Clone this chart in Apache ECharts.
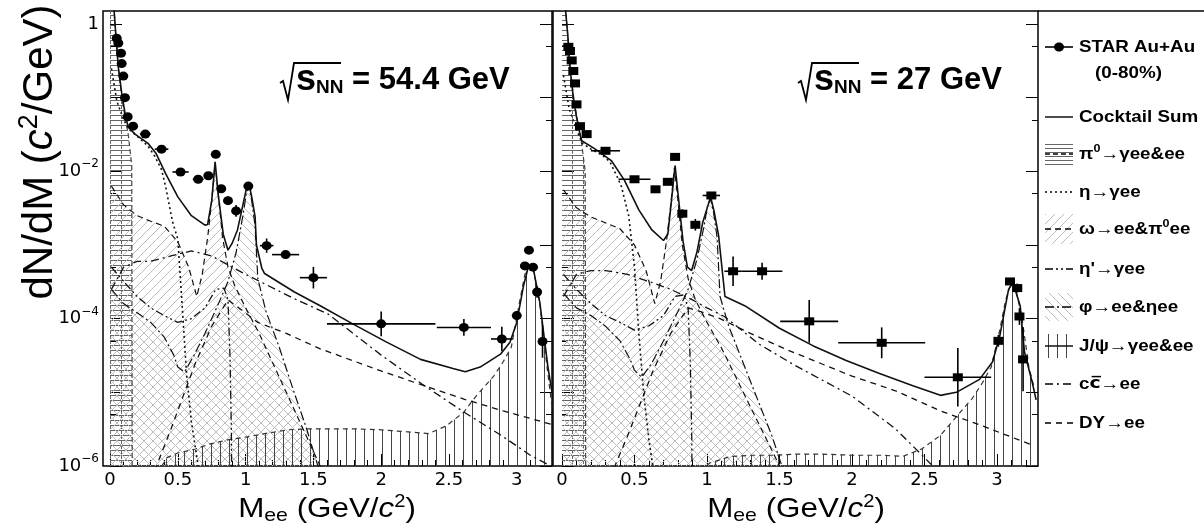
<!DOCTYPE html>
<html>
<head>
<meta charset="utf-8">
<script src="https://cdn.jsdelivr.net/npm/echarts@6/dist/echarts.min.js"></script>
<style>
html, body { margin: 0; padding: 0; background: #fff; }
#chart { width: 1204px; height: 529px; }
</style>
</head>
<body>
<div id="chart"></div>
<script>
// ---------- STAR data points ----------
const mass54 = [0.049, 0.061, 0.081, 0.086, 0.098, 0.11, 0.13, 0.17, 0.26, 0.38, 0.52, 0.65, 0.725, 0.78, 0.82, 0.87, 0.93, 1.02, 1.155, 1.295, 1.5, 2.0, 2.61, 2.89, 3.0, 3.06, 3.09, 3.12, 3.15, 3.19]
const dndm54 = [0.64, 0.55, 0.40, 0.29, 0.196, 0.10, 0.055, 0.041, 0.032, 0.020, 0.0098, 0.0078, 0.0087, 0.017, 0.0058, 0.0040, 0.0029, 0.0063, 9.8e-4, 7.4e-4, 3.6e-4, 8.5e-5, 7.6e-5, 5.3e-5, 1.1e-4, 5.2e-4, 8.5e-4, 5.0e-4, 2.3e-4, 4.9e-5]
const dm54 = [0.005, 0.005, 0.005, 0.005, 0.005, 0.005, 0.01, 0.02, 0.04, 0.05, 0.06, 0.04, 0.02, 0.01, 0.01, 0.02, 0.02, 0.03, 0.05, 0.1, 0.1, 0.4, 0.2, 0.08, 0.03, 0.01, 0.01, 0.01, 0.01, 0.01]
const fy54 = [1.04, 1.04, 1.04, 1.04, 1.04, 1.04, 1.05, 1.05, 1.06, 1.06, 1.08, 1.08, 1.08, 1.06, 1.1, 1.15, 1.2, 1.1, 1.25, 1.12, 1.4, 1.47, 1.3, 1.47, 1.15, 1.08, 1.06, 1.1, 1.2, 1.66]

const mass27 = [0.044, 0.055, 0.067, 0.078, 0.09, 0.10, 0.124, 0.17, 0.30, 0.50, 0.645, 0.73, 0.78, 0.83, 0.92, 1.03, 1.18, 1.38, 1.705, 2.205, 2.73, 3.01, 3.09, 3.14, 3.155, 3.18]
const dndm27 = [0.49, 0.43, 0.32, 0.23, 0.156, 0.081, 0.041, 0.032, 0.019, 0.0078, 0.0057, 0.0072, 0.0157, 0.00266, 0.00188, 0.0047, 4.4e-4, 4.4e-4, 9.2e-5, 4.7e-5, 1.6e-5, 5.0e-5, 3.2e-4, 2.6e-4, 1.07e-4, 2.8e-5]
const dm27 = [0.005, 0.005, 0.005, 0.005, 0.005, 0.005, 0.01, 0.02, 0.1, 0.11, 0.03, 0.02, 0.01, 0.02, 0.03, 0.06, 0.06, 0.14, 0.2, 0.3, 0.23, 0.02, 0.01, 0.01, 0.01, 0.01]
const fy27 = [1.04, 1.04, 1.04, 1.04, 1.04, 1.04, 1.05, 1.05, 1.06, 1.06, 1.08, 1.08, 1.06, 1.15, 1.2, 1.1, 1.58, 1.3, 1.95, 1.62, 2.5, 1.2, 1.08, 1.15, 1.3, 2.7]

// ---------- cocktail sum ----------
const mSum54 = [0.02, 0.03, 0.042, 0.061, 0.086, 0.11, 0.133, 0.184, 0.28, 0.34, 0.41, 0.50, 0.60, 0.70, 0.72, 0.75, 0.775, 0.80, 0.835, 0.87, 0.90, 0.94, 0.98, 1.01, 1.025, 1.045, 1.07, 1.08, 1.12, 1.14, 1.36, 1.55, 1.79, 2.04, 2.29, 2.53, 2.62, 2.73, 2.88, 2.95, 3.0, 3.05, 3.085, 3.12, 3.17, 3.23, 3.26]
const sum54 = [2.5, 1.51, 0.74, 0.26, 0.115, 0.062, 0.040, 0.032, 0.024, 0.0174, 0.0093, 0.0045, 0.0025, 0.00186, 0.0019, 0.004, 0.0135, 0.0045, 0.0014, 8.5e-4, 0.00105, 0.0016, 0.0035, 0.0063, 0.0068, 0.0045, 0.0024, 0.001, 4.8e-4, 4.1e-4, 2.3e-4, 1.5e-4, 8.5e-5, 4.8e-5, 2.8e-5, 2.1e-5, 1.9e-5, 2.2e-5, 3.3e-5, 4.8e-5, 8.9e-5, 2.8e-4, 5.0e-4, 5.0e-4, 1.66e-4, 2.2e-5, 1e-5]
const mSum27 = [0.015, 0.025, 0.039, 0.055, 0.078, 0.10, 0.124, 0.136, 0.23, 0.34, 0.43, 0.53, 0.62, 0.70, 0.73, 0.755, 0.78, 0.80, 0.835, 0.865, 0.894, 0.93, 0.97, 1.025, 1.05, 1.08, 1.124, 1.26, 1.50, 1.73, 1.96, 2.19, 2.42, 2.61, 2.72, 2.88, 2.97, 3.02, 3.08, 3.11, 3.16, 3.19, 3.24, 3.27]
const sum27 = [3, 1.5, 0.75, 0.26, 0.10, 0.055, 0.032, 0.026, 0.020, 0.014, 0.0076, 0.003, 0.0016, 0.00115, 0.0014, 0.004, 0.012, 0.005, 0.00112, 5e-4, 4.5e-4, 7.9e-4, 0.002, 0.0045, 0.0028, 0.00135, 2.0e-4, 1.5e-4, 7.4e-5, 4.3e-5, 2.7e-5, 1.8e-5, 1.23e-5, 9.1e-6, 1e-5, 1.5e-5, 2.6e-5, 5.9e-5, 2.5e-4, 3.1e-4, 1.5e-4, 3.5e-5, 1.45e-5, 7.9e-6]

// ---------- cocktail components ----------
const mPi0 = [0, 0.015, 0.03, 0.042, 0.061, 0.086, 0.11, 0.133, 0.16, 0.165]
const pi054 = [10, 3, 1.5, 0.72, 0.25, 0.105, 0.055, 0.033, 0.012, 1e-8]
const pi027 = [10, 2.8, 1.2, 0.6, 0.2, 0.085, 0.045, 0.026, 0.010, 1e-8]

const mEta = [0.01, 0.05, 0.1, 0.14, 0.2, 0.28, 0.33, 0.38, 0.41, 0.46, 0.50, 0.53, 0.565, 0.60, 0.65]
const eta54 = [0.25, 0.09, 0.05, 0.037, 0.030, 0.022, 0.016, 0.0105, 0.0062, 0.0021, 0.0012, 1.7e-4, 1.7e-5, 4e-6, 1e-6]
const eta27 = [0.2, 0.07, 0.037, 0.024, 0.020, 0.0165, 0.0135, 0.0085, 0.0062, 0.0025, 5e-4, 6.3e-5, 9e-6, 2.2e-6, 5e-7]

const mOmega = [0.01, 0.1, 0.2, 0.3, 0.4, 0.5, 0.58, 0.64, 0.68, 0.72, 0.75, 0.775, 0.80, 0.83, 0.87, 0.92, 1.0, 1.1, 1.2, 1.3, 1.45, 1.6]
const omega54 = [6.3e-3, 3.5e-3, 2.5e-3, 2.1e-3, 1.8e-3, 1.1e-3, 5e-4, 2e-4, 4e-4, 1.26e-3, 4e-3, 0.0126, 4.5e-3, 1.26e-3, 5e-4, 2.8e-4, 1.4e-4, 6.3e-5, 2.5e-5, 1e-5, 2.5e-6, 6.3e-7]
const omega27 = [5.6e-3, 3.2e-3, 2.4e-3, 2.0e-3, 1.66e-3, 1e-3, 4.5e-4, 1.6e-4, 3.2e-4, 1.1e-3, 3.5e-3, 0.0112, 4e-3, 1e-3, 3.5e-4, 1.8e-4, 8.9e-5, 4e-5, 1.6e-5, 6.3e-6, 1.6e-6, 4e-7]

const mEtap = [0.01, 0.1, 0.2, 0.3, 0.4, 0.5, 0.6, 0.7, 0.78, 0.84, 0.87, 0.885, 0.895, 0.9]
const etap54 = [5e-4, 3.2e-4, 2e-4, 1.4e-4, 1.1e-4, 8.9e-5, 1e-4, 1.4e-4, 2.5e-4, 2.6e-4, 1.8e-4, 3e-5, 3e-6, 1e-7]
const etap27 = [4e-4, 2.5e-4, 1.6e-4, 1.1e-4, 8.9e-5, 7e-5, 8e-5, 1.1e-4, 2e-4, 2.1e-4, 1.4e-4, 2.5e-5, 2.5e-6, 1e-7]

const mPhi = [0.01, 0.1, 0.2, 0.3, 0.4, 0.47, 0.5, 0.55, 0.62, 0.7, 0.8, 0.87, 0.93, 0.98, 1.005, 1.025, 1.045, 1.07, 1.09, 1.15, 1.25, 1.35, 1.45, 1.55]
const phi54 = [2.5e-4, 1.6e-4, 1.2e-4, 8.9e-5, 5.6e-5, 3.2e-5, 2.2e-5, 1.9e-5, 3.2e-5, 6.3e-5, 1.6e-4, 3.2e-4, 7.9e-4, 2.5e-3, 5e-3, 6.3e-3, 4e-3, 1.8e-3, 3.5e-4, 1.26e-4, 4e-5, 1.1e-5, 3.2e-6, 7.9e-7]
const phi27 = [2.2e-4, 1.4e-4, 1.1e-4, 7.9e-5, 5e-5, 2.8e-5, 2e-5, 1.6e-5, 2.5e-5, 5e-5, 1.26e-4, 2.5e-4, 6.3e-4, 1.8e-3, 3.5e-3, 4.2e-3, 2.8e-3, 1.26e-3, 2e-4, 7.9e-5, 2.5e-5, 7.9e-6, 2.5e-6, 6.3e-7]

const mJpsi = [0.35, 0.42, 0.5, 0.63, 0.74, 0.885, 1.02, 1.165, 1.31, 1.46, 1.61, 1.8, 2.0, 2.2, 2.35, 2.48, 2.61, 2.70, 2.83, 2.90, 2.96, 3.02, 3.06, 3.09, 3.12, 3.17, 3.22, 3.26]
const jpsi54 = [7.9e-7, 1.3e-6, 1.5e-6, 1.7e-6, 2.0e-6, 2.3e-6, 2.5e-6, 2.8e-6, 3.1e-6, 3.2e-6, 3.2e-6, 3.2e-6, 3.1e-6, 2.9e-6, 2.75e-6, 3.5e-6, 5.4e-6, 8.9e-6, 1.66e-5, 2.6e-5, 4.1e-5, 1.66e-4, 4e-4, 5.2e-4, 5e-4, 1.6e-4, 2.5e-5, 6.3e-6]
const jpsi27 = [2.5e-7, 2.5e-7, 2.5e-7, 3.2e-7, 4.5e-7, 6.3e-7, 1.1e-6, 1.35e-6, 1.4e-6, 1.4e-6, 1.45e-6, 1.45e-6, 1.4e-6, 1.4e-6, 1.35e-6, 1.7e-6, 2.6e-6, 4.2e-6, 8.3e-6, 1.35e-5, 2.2e-5, 7.1e-5, 1.8e-4, 2.7e-4, 3e-4, 1.1e-4, 2.2e-5, 1.1e-5]

const mCC = [0.01, 0.1, 0.2, 0.3, 0.45, 0.6, 0.75, 0.9, 1.0, 1.12, 1.36, 1.61, 2.0, 2.3, 2.61, 2.9, 3.1, 3.25]
const cc54 = [2.5e-4, 5e-4, 6e-4, 6e-4, 7.1e-4, 8.3e-4, 7.1e-4, 5e-4, 4e-4, 3.1e-4, 1.86e-4, 1.15e-4, 3.2e-5, 1.3e-5, 5.4e-6, 2.5e-6, 1.4e-6, 1e-6]
const cc27 = [2e-4, 4e-4, 4.5e-4, 4.5e-4, 4e-4, 3.2e-4, 2.5e-4, 1.8e-4, 1.4e-4, 1.07e-4, 4.5e-5, 2.3e-5, 8.9e-6, 3.2e-6, 7.9e-7, 2.5e-7, 1e-7, 5e-8]

const mDY = [0.3, 0.45, 0.63, 0.75, 0.87, 0.95, 1.09, 1.3, 1.55, 2.0, 2.3, 2.61, 2.9, 3.25]
const dy54 = [6.3e-7, 3.2e-6, 2.5e-5, 7.9e-5, 1.8e-4, 1.4e-4, 8.9e-5, 6.3e-5, 3.9e-5, 1.95e-5, 1.26e-5, 8.1e-6, 5.6e-6, 3.7e-6]
const dy27 = [5e-7, 2.5e-6, 2e-5, 6.3e-5, 1.4e-4, 1.26e-4, 1e-4, 6.3e-5, 3.8e-5, 1.66e-5, 1.05e-5, 5.6e-6, 3.5e-6, 1.9e-6]

// ---------- ticks ----------
const xMajor = [0, 0.5, 1, 1.5, 2, 2.5, 3]
const xMinor = [0.1, 0.2, 0.3, 0.4, 0.6, 0.7, 0.8, 0.9, 1.1, 1.2, 1.3, 1.4, 1.6, 1.7, 1.8, 1.9, 2.1, 2.2, 2.3, 2.4, 2.6, 2.7, 2.8, 2.9, 3.1, 3.2]
const yMajor = [1e-6, 1e-5, 1e-4, 1e-3, 1e-2, 1e-1, 1]
const yMinor = [5e-6, 5e-5, 5e-4, 5e-3, 5e-2, 0.5]
const yLabels = [1e-6, 1e-4, 1e-2, 1]

const FONT = '"Liberation Sans", Arial, Helvetica, sans-serif'
const INK = '#111'

function hatch (kind, color, w, h) {
  const c = document.createElement('canvas')
  c.width = w
  c.height = h
  const g = c.getContext('2d')
  g.strokeStyle = color
  g.lineWidth = 1
  g.beginPath()
  if (kind === 'fwd') {
    g.moveTo(0, h); g.lineTo(w, 0)
    g.moveTo(-2, 2); g.lineTo(2, -2)
    g.moveTo(w - 2, h + 2); g.lineTo(w + 2, h - 2)
  } else if (kind === 'back') {
    g.moveTo(0, 0); g.lineTo(w, h)
    g.moveTo(w - 2, -2); g.lineTo(w + 2, 2)
    g.moveTo(-2, h - 2); g.lineTo(2, h + 2)
  } else if (kind === 'vert') {
    g.moveTo(w / 2, 0); g.lineTo(w / 2, h)
  } else if (kind === 'horiz') {
    g.moveTo(0, 0.5); g.lineTo(w, 0.5)
  } else {
    g.moveTo(0, 0.5); g.lineTo(w, 0.5)
    g.moveTo(0.5, 0); g.lineTo(0.5, h - 1)
  }
  g.stroke()
  return { image: c, repeat: 'repeat' }
}

const fillOmega = hatch('fwd', '#bdbdbd', 9, 9)
const fillPhi = hatch('back', '#bdbdbd', 9, 9)
const fillJpsi = hatch('vert', '#444', 9, 9)
const fillPi0 = hatch('box', '#666', 11, 5)
const fillPi0Key = hatch('horiz', '#666', 8, 4)

const DASH = {
  pi0: [5, 3],
  eta: [2, 3],
  omega: [6, 4],
  etap: [8, 3, 2, 3, 2, 3],
  phi: [9, 3, 2, 3],
  jpsi: [5, 4],
  cc: [8, 4, 2, 4],
  dy: [6, 5]
}

const panels = [
  { left: 103, width: 449, xmin: -0.052, xmax: 3.26, showY: true,
    data: [mass54, dndm54, dm54, fy54], sum: [mSum54, sum54], sym: 'circle',
    comp: { pi0: pi054, eta: eta54, omega: omega54, etap: etap54, phi: phi54, jpsi: jpsi54, cc: cc54, dy: dy54 } },
  { left: 553, width: 485, xmin: -0.062, xmax: 3.283, showY: false,
    data: [mass27, dndm27, dm27, fy27], sum: [mSum27, sum27], sym: 'rect',
    comp: { pi0: pi027, eta: eta27, omega: omega27, etap: etap27, phi: phi27, jpsi: jpsi27, cc: cc27, dy: dy27 } }
]

const zip = (xs, ys) => xs.map((x, i) => [x, ys[i]])

function supLabel (v) {
  const e = Math.round(Math.log10(v))
  return e === 0 ? '1' : '10{sup|\u2212' + (-e) + '}'
}

const grids = []
const xAxes = []
const yAxes = []
const series = []

panels.forEach((p, i) => {
  grids.push({ left: p.left, top: 11, width: p.width, height: 455, show: true, borderColor: '#000', borderWidth: 1.5, backgroundColor: 'transparent' })
  const xBase = { type: 'value', gridIndex: i, min: p.xmin, max: p.xmax, position: 'bottom', axisLine: { show: false }, splitLine: { show: false } }
  xAxes.push(Object.assign({}, xBase, {
    axisTick: { inside: true, length: 12, customValues: xMajor, lineStyle: { color: '#000', width: 1 } },
    axisLabel: { customValues: xMajor, color: '#000', fontSize: 18, fontFamily: '"DejaVu Sans", sans-serif', margin: 5, formatter: v => String(v) }
  }))
  xAxes.push(Object.assign({}, xBase, {
    axisTick: { inside: true, length: 6, customValues: xMinor, lineStyle: { color: '#000', width: 1 } },
    axisLabel: { show: false }
  }))
  const yBase = { type: 'log', logBase: 10, gridIndex: i, min: 1e-6, max: 1.5, axisLine: { show: false }, splitLine: { show: false } }
  ;['left', 'right'].forEach(pos => {
    yAxes.push(Object.assign({}, yBase, {
      position: pos,
      axisTick: { inside: true, length: 12, customValues: yMajor, lineStyle: { color: '#000', width: 1 } },
      axisLabel: (pos === 'left' && p.showY) ? {
        customValues: yLabels, color: '#000', fontSize: 18, fontFamily: '"DejaVu Sans", sans-serif', margin: 4,
        formatter: supLabel,
        rich: { sup: { fontSize: 12, fontFamily: '"DejaVu Sans", sans-serif', color: '#000', padding: [0, 0, 14, 0] } }
      } : { show: false }
    }))
    yAxes.push(Object.assign({}, yBase, {
      position: pos,
      axisTick: { inside: true, length: 6, customValues: yMinor, lineStyle: { color: '#000', width: 1 } },
      axisLabel: { show: false }
    }))
  })

  const xi = 2 * i
  const yi = 4 * i
  const base = { xAxisIndex: xi, yAxisIndex: yi, symbol: 'none', silent: true, animation: false }
  const c = p.comp
  const area = (name, m, v, fill, dash, col, z) => Object.assign({}, base, {
    type: 'line', name, data: zip(m, v), z,
    lineStyle: { color: col, width: 1.2, type: dash },
    areaStyle: { color: fill, origin: 'start', opacity: 1 }
  })
  const line = (name, m, v, dash, w, z) => Object.assign({}, base, {
    type: 'line', name, data: zip(m, v), z,
    lineStyle: { color: INK, width: w, type: dash }
  })
  series.push(area('pi0', mPi0, c.pi0, fillPi0, DASH.pi0, '#444', 1))
  series.push(area('omega', mOmega, c.omega, fillOmega, DASH.omega, INK, 1))
  series.push(area('phi', mPhi, c.phi, fillPhi, DASH.phi, INK, 1))
  series.push(area('jpsi', mJpsi, c.jpsi, fillJpsi, DASH.jpsi, '#333', 1))
  series.push(line('eta', mEta, c.eta, DASH.eta, 1.6, 2))
  series.push(line('etap', mEtap, c.etap, DASH.etap, 1.3, 2))
  series.push(line('cc', mCC, c.cc, DASH.cc, 1.3, 2))
  series.push(line('dy', mDY, c.dy, DASH.dy, 1.3, 2))
  series.push(line('sum', p.sum[0], p.sum[1], 'solid', 1.6, 3))

  const [mx, my, dx, fy] = p.data
  series.push({
    type: 'custom', xAxisIndex: xi, yAxisIndex: yi, z: 4, silent: true, clip: true,
    data: mx.map((x, k) => [x, my[k], x - dx[k], x + dx[k], my[k] / fy[k], my[k] * fy[k]]),
    encode: { x: 0, y: 1 },
    renderItem: (params, api) => {
      const a = api.coord([api.value(2), api.value(1)])
      const b = api.coord([api.value(3), api.value(1)])
      const lo = api.coord([api.value(0), api.value(4)])
      const hi = api.coord([api.value(0), api.value(5)])
      const st = { stroke: '#000', lineWidth: 1.6 }
      return { type: 'group', children: [
        { type: 'line', shape: { x1: a[0], y1: a[1], x2: b[0], y2: b[1] }, style: st },
        { type: 'line', shape: { x1: lo[0], y1: lo[1], x2: hi[0], y2: hi[1] }, style: st }
      ] }
    }
  })
  series.push(Object.assign({}, base, {
    type: 'scatter', data: zip(mx, my), z: 5,
    symbol: p.sym, symbolSize: p.sym === 'rect' ? [10, 8] : [10, 9],
    itemStyle: { color: '#000', opacity: 1 }
  }))
})

// ---------- texts and legend (drawn as graphics) ----------
const graphic = []
graphic.push({ type: 'line', shape: { x1: 1038, y1: 11, x2: 1204, y2: 11 }, style: { stroke: '#000', lineWidth: 1.5 } })

graphic.push({
  type: 'text', x: 40, y: 152, rotation: Math.PI / 2,
  style: {
    text: 'dN/dM ({i|c}{s|2}/GeV)', font: '42px ' + FONT, fill: '#000', align: 'center', verticalAlign: 'middle',
    rich: { i: { font: 'italic 42px ' + FONT, fill: '#000' }, s: { font: '27px ' + FONT, fill: '#000', padding: [0, 0, 20, 0] } }
  }
})
;[327, 796].forEach(cx => {
  graphic.push({
    type: 'text', x: cx, y: 509, scaleX: 1.12,
    style: {
      text: 'M{b|ee} (GeV/{i|c}{s|2})', font: '28px ' + FONT, fill: '#000', align: 'center', verticalAlign: 'middle',
      rich: {
        b: { font: '19px ' + FONT, fill: '#000', padding: [13, 0, 0, 0] },
        i: { font: 'italic 28px ' + FONT, fill: '#000' },
        s: { font: '18px ' + FONT, fill: '#000', padding: [0, 0, 14, 0] }
      }
    }
  })
})

// sqrt(s_NN) labels: radical drawn as a polyline, text as real text
;[[280, '54.4 GeV'], [798, '27 GeV']].forEach(([x0, txt]) => {
  graphic.push({
    type: 'polyline',
    shape: { points: [[x0, 83], [x0 + 3, 81], [x0 + 8, 100], [x0 + 14, 63], [x0 + 61, 63]] },
    style: { stroke: '#000', lineWidth: 1.8, fill: null }
  })
  graphic.push({
    type: 'text', x: x0 + 16, y: 80,
    style: {
      text: '{s|s}{n|NN} = ' + txt, font: 'bold 31px ' + FONT, fill: '#000', verticalAlign: 'middle',
      rich: {
        s: { font: 'bold 36px ' + FONT, fill: '#000' },
        n: { font: 'bold 19px ' + FONT, fill: '#000', padding: [16, 0, 0, 0] }
      }
    }
  })
})

const legendRows = [
  { y: 47, text: 'STAR Au+Au', kind: 'data' },
  { y: 117, text: 'Cocktail Sum', kind: 'line', dash: 'solid' },
  { y: 154, text: '\u03c0{s|0}\u2192\u03b3ee&ee', kind: 'box', fill: fillPi0Key, dash: DASH.pi0, h: 22 },
  { y: 192, text: '\u03b7\u2192\u03b3ee', kind: 'line', dash: DASH.eta },
  { y: 229, text: '\u03c9\u2192ee&\u03c0{s|0}ee', kind: 'box', fill: fillOmega, dash: DASH.omega, h: 30 },
  { y: 269, text: "\u03b7'\u2192\u03b3ee", kind: 'line', dash: DASH.etap },
  { y: 307, text: '\u03c6\u2192ee&\u03b7ee', kind: 'box', fill: fillPhi, dash: DASH.phi, h: 28 },
  { y: 346, text: 'J/\u03c8\u2192\u03b3ee&ee', kind: 'box', fill: fillJpsi, dash: 'solid', h: 24 },
  { y: 384, text: 'c{o|c\u0305}\u2192ee', kind: 'line', dash: DASH.cc },
  { y: 423, text: 'DY\u2192ee', kind: 'line', dash: DASH.dy }
]
legendRows.forEach(r => {
  if (r.kind === 'box') {
    graphic.push({ type: 'rect', shape: { x: 1045, y: r.y - r.h / 2, width: 28, height: r.h }, style: { fill: r.fill, stroke: null } })
  }
  if (r.kind === 'data') {
    graphic.push({ type: 'line', shape: { x1: 1045, y1: r.y, x2: 1073, y2: r.y }, style: { stroke: '#000', lineWidth: 1.6 } })
    graphic.push({ type: 'ellipse', shape: { cx: 1059, cy: r.y, rx: 5, ry: 4.5 }, style: { fill: '#000' } })
  } else {
    graphic.push({ type: 'line', shape: { x1: 1045, y1: r.y, x2: 1073, y2: r.y }, style: { stroke: '#000', lineWidth: 1.4, lineDash: r.dash === 'solid' ? null : r.dash } })
  }
  graphic.push({
    type: 'text', x: 1079, y: r.y, scaleX: 1.14,
    style: {
      text: r.text, font: 'bold 16.5px ' + FONT, fill: '#000', verticalAlign: 'middle',
      rich: { s: { font: 'bold 11px ' + FONT, fill: '#000', padding: [0, 0, 10, 0] }, o: { font: 'bold 16.5px "DejaVu Sans", sans-serif', fill: '#000' } }
    }
  })
})
graphic.push({ type: 'text', x: 1095, y: 73, scaleX: 1.14, style: { text: '(0-80%)', font: 'bold 16.5px ' + FONT, fill: '#000', verticalAlign: 'middle' } })

const chart = echarts.init(document.getElementById('chart'))
chart.setOption({
  backgroundColor: '#fff',
  animation: false,
  grid: grids,
  xAxis: xAxes,
  yAxis: yAxes,
  series,
  graphic
})
</script>
</body>
</html>
